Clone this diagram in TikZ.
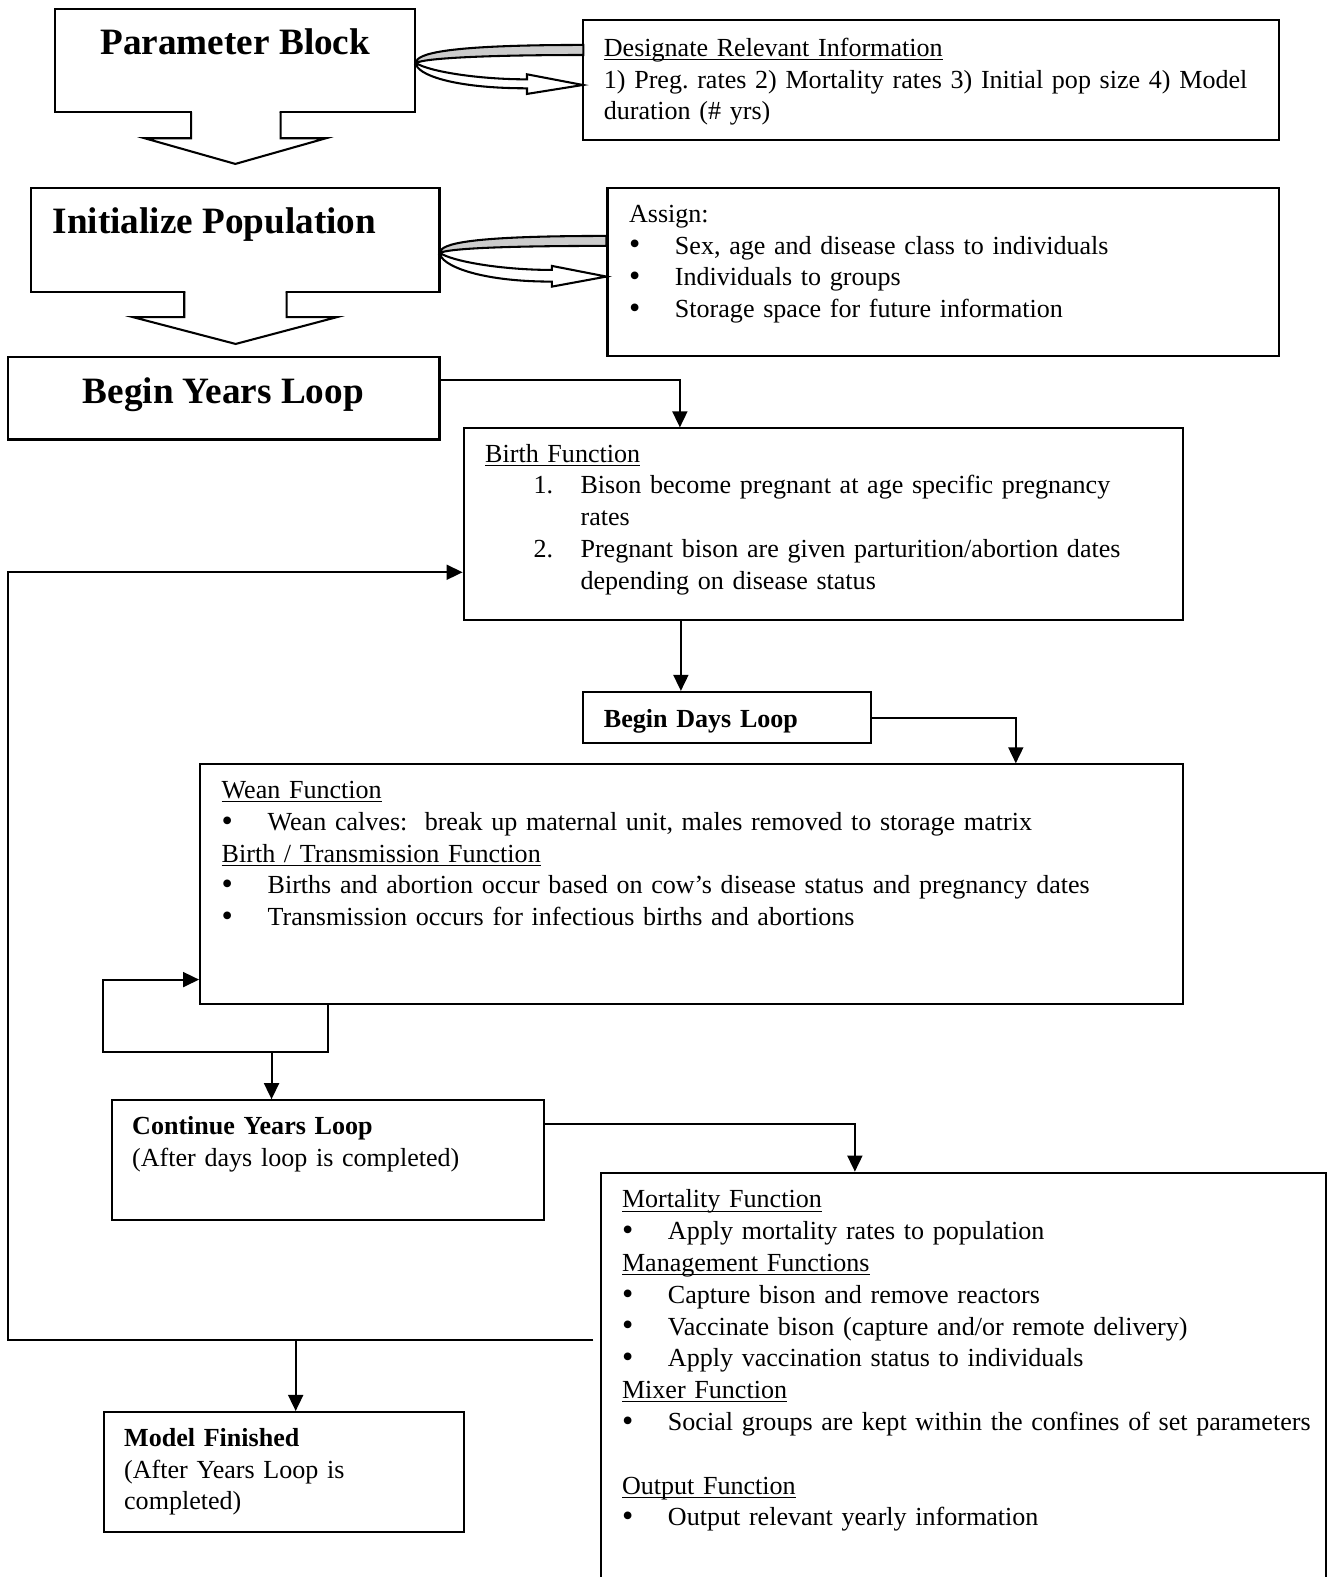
\documentclass[tikz,border=0pt]{standalone}
\usepackage{fontspec}
\setmainfont{Liberation Serif}
\usetikzlibrary{arrows.meta,fit}

\newcommand{\bul}{\makebox[20pt][l]{\raisebox{-0.3pt}{\fontsize{14}{14}\selectfont\textbullet}}}
\newcommand{\nitem}[1]{\makebox[20.5pt][l]{#1}}
\newcommand{\ulin}[1]{\underline{\smash{#1}}}

\begin{document}
\frenchspacing
\begin{tikzpicture}[x=0.438pt,y=0.438pt,yscale=-1,xscale=1,
  box/.style={draw,line width=0.9pt,inner sep=0pt},
  txt/.style={anchor=base west,inner sep=0pt,align=left,text width=420pt,
    font=\fontsize{11.35}{13.85}\selectfont},
  big/.style={inner sep=0pt,font=\fontsize{16.2}{19}\selectfont\bfseries},
  arr/.style={line width=0.9pt,-{Triangle[length=7pt,width=6.5pt]}},
  line/.style={line width=0.9pt}]

\useasboundingbox (0,0) rectangle (1320,1568);

% boxes
\node[box,fit={(55,9) (413,111.6)}] (param) {};
\node[box,fit={(580,20) (1272,139)}] (desig) {};
\node[box,fit={(31,187) (437,290.6)}] (init) {};
\node[box,fit={(604,187) (1272,354)}] (assign) {};
\node[box,fit={(8,355) (437,437)}] (years) {};
\node[box,fit={(461,426) (1176,616)}] (birth) {};
\node[box,fit={(580,688) (866,739)}] (days) {};
\node[box,fit={(199,760) (1176,998)}] (wean) {};
\node[box,fit={(111,1094) (541,1213)}] (cont) {};
\node[box,fit={(103,1404) (461,1523)}] (finish) {};
\node[box,fit={(598,1166) (1318,1600)}] (mort) {};

% block arrows
\fill[white] (191,109) -- (191,137.5) -- (144,137.5) -- (234,163) -- (324,137.5) -- (278,137.5) -- (278,109) -- cycle;
\draw[line] (190,111.6) -- (190,137.5) -- (144,137.5) -- (234,163) -- (324,137.5) -- (279,137.5) -- (279,111.6);

\fill[white] (184.2,288) -- (184.2,315.4) -- (132.5,315.4) -- (234.3,342) -- (334.7,315.4) -- (284,315.4) -- (284,288) -- cycle;
\draw[line] (183.2,290.6) -- (183.2,315.4) -- (132.5,315.4) -- (234.3,342) -- (334.7,315.4) -- (285,315.4) -- (285,290.6);

% curved arrows
\filldraw[line,fill=gray!40] (580,44.7) .. controls (445,44.7) and (413.5,53) .. (413.5,62.6) .. controls (422,58) and (480,54.7) .. (580,54.7) -- cycle;
\filldraw[line,fill=white] (413.5,62.6) .. controls (426,71) and (475,78.9) .. (524,78.9) -- (524,73.9) -- (579.5,84.5) -- (524,93.4) -- (524,87.8) .. controls (450,87.8) and (413.5,74) .. (413.5,62.6) -- cycle;

\filldraw[line,fill=gray!40] (603,234.6) .. controls (468,234.6) and (437.4,242) .. (437.4,251.5) .. controls (446,247) and (503,244.5) .. (603,244.5) -- cycle;
\filldraw[line,fill=white] (437.4,251.5) .. controls (450,260) and (499,268.4) .. (548.7,268.4) -- (548.7,264.4) -- (603,275) -- (548.7,285) -- (548.7,280) .. controls (474,280) and (437.4,263) .. (437.4,251.5) -- cycle;

% connectors
\coordinate (yb) at (676,378);
\draw[arr] (years.east |- yb) -- (yb) -- (birth.north -| yb);
\coordinate (bd) at (677,0);
\draw[arr] (birth.south -| bd) -- (days.north -| bd);
\coordinate (dw) at (1010,0);
\draw[arr] (days.east) -| (wean.north -| dw);
\coordinate (wl) at (326,1046);
\coordinate (wr) at (102,974);
\draw[arr] (wean.south -| wl) -- (wl) -- (wl -| wr) -- (wr) -- (wean.west |- wr);
\coordinate (wc) at (270,1046);
\draw[arr] (wc) -- (cont.north -| wc);
\coordinate (cm) at (850,1118);
\draw[arr] (cont.east |- cm) -- (cm) -- (mort.north -| cm);
\coordinate (ml) at (590,1332);
\coordinate (lb) at (8,569);
\draw[arr] (ml) -- (ml -| lb) -- (lb) -- (birth.west |- lb);
\coordinate (mf) at (294,1332);
\draw[arr] (mf) -- (finish.north -| mf);

% texts
\node[big,anchor=base] (tparam) at (234,54) {Parameter Block};
\node[big,anchor=base west] (tinit) at (52,232) {Initialize Population};
\node[big,anchor=base] (tyears) at (222,401) {Begin Years Loop};
\node[txt] (tdays) at (600,723) {\textbf{Begin Days Loop}};

\node[txt] (tdesig) at (600,56) {\ulin{Designate Relevant Information}\\
1) Preg. rates 2) Mortality rates 3) Initial pop size 4) Model\\
duration (\# yrs)};

\node[txt] (tassign) at (625,221) {Assign:\\
\bul Sex, age and disease class to individuals\\
\bul Individuals to groups\\
\bul Storage space for future information};

\node[txt] (tbirth) at (482,460) {\ulin{Birth Function}};
\node[txt] (tbirthl) at (530,491) {\nitem{1.}Bison become pregnant at age specific pregnancy\\
\nitem{}rates\\
\nitem{2.}Pregnant bison are given parturition/abortion dates\\
\nitem{}depending on disease status};

\node[txt] (twean) at (220,794) {\ulin{Wean Function}\\
\bul Wean calves:\ \ break up maternal unit, males removed to storage matrix\\
\ulin{Birth / Transmission Function}\\
\bul Births and abortion occur based on cow’s disease status and pregnancy dates\\
\bul Transmission occurs for infectious births and abortions};

\node[txt] (tcont) at (131,1128) {\textbf{Continue Years Loop}\\
(After days loop is completed)};

\node[txt] (tmort) at (618,1201) {\ulin{Mortality Function}\\
\bul Apply mortality rates to population\\
\ulin{Management Functions}\\
\bul Capture bison and remove reactors\\
\bul Vaccinate bison (capture and/or remote delivery)\\
\bul Apply vaccination status to individuals\\
\ulin{Mixer Function}\\
\bul Social groups are kept within the confines of set parameters\\
\mbox{}\\
\ulin{Output Function}\\
\bul Output relevant yearly information};

\node[txt] (tfin) at (123,1438) {\textbf{Model Finished}\\
(After Years Loop is\\
completed)};

\end{tikzpicture}
\end{document}
